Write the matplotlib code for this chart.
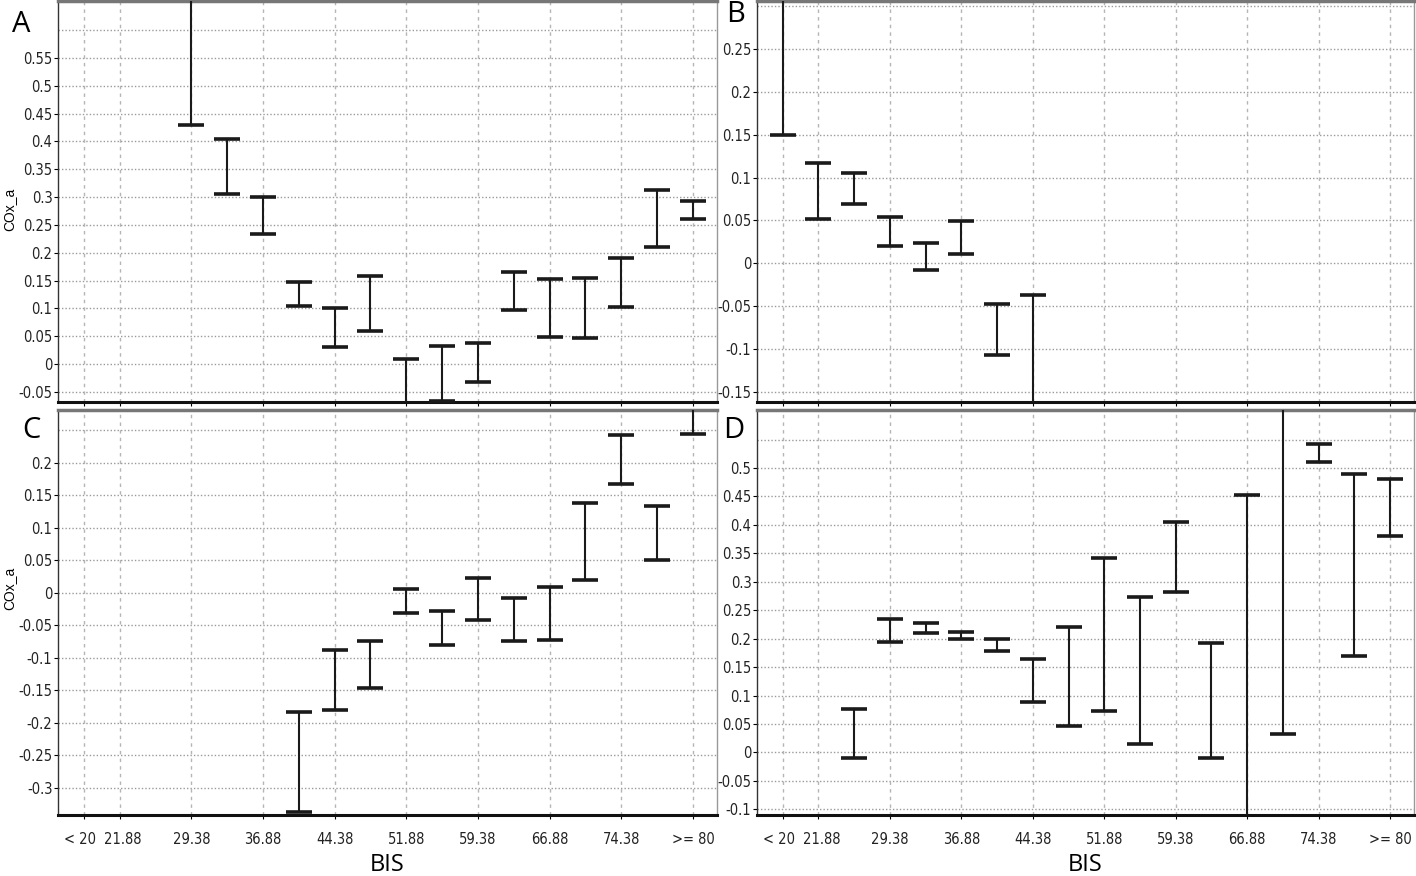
import matplotlib
matplotlib.use("Agg")
import matplotlib.pyplot as plt
from matplotlib import font_manager as fm
from matplotlib import transforms as mtrans
import numpy as np

# ---------------- data ----------------
categories = ["< 20", "21.88", "25.63", "29.38", "33.13", "36.88", "40.63", "44.38", "48.13",
              "51.88", "55.63", "59.38", "63.13", "66.88", "70.63", "74.38", "78.13", ">= 80"]
shown_ticks = [0, 1, 3, 5, 7, 9, 11, 13, 15, 17]

# Panel A (bin index, lower, upper)
a_idx = [3, 4, 5, 6, 7, 8, 9, 10, 11, 12, 13, 14, 15, 16, 17]
a_low = [0.43, 0.305, 0.233, 0.105, 0.030, 0.060, -0.09, -0.066, -0.032, 0.097, 0.048, 0.047, 0.102, 0.210, 0.260]
a_up = [0.70, 0.405, 0.300, 0.148, 0.100, 0.158, 0.010, 0.033, 0.038, 0.166, 0.152, 0.154, 0.190, 0.313, 0.293]

# Panel B
b_idx = [0, 1, 2, 3, 4, 5, 6, 7]
b_low = [0.150, 0.052, 0.069, 0.020, -0.008, 0.011, -0.107, -0.20]
b_up = [0.35, 0.117, 0.105, 0.054, 0.023, 0.049, -0.048, -0.037]

# Panel C
c_idx = [6, 7, 8, 9, 10, 11, 12, 13, 14, 15, 16, 17]
c_low = [-0.338, -0.180, -0.147, -0.031, -0.081, -0.042, -0.074, -0.072, 0.020, 0.168, 0.051, 0.245]
c_up = [-0.183, -0.088, -0.074, 0.006, -0.028, 0.023, -0.008, 0.009, 0.138, 0.243, 0.133, 0.32]

# Panel D
d_idx = [2, 3, 4, 5, 6, 7, 8, 9, 10, 11, 12, 13, 14, 15, 16, 17]
d_low = [-0.010, 0.195, 0.210, 0.200, 0.178, 0.088, 0.046, 0.073, 0.015, 0.282, -0.010, -0.15, 0.033, 0.510, 0.170, 0.380]
d_up = [0.077, 0.235, 0.228, 0.211, 0.200, 0.164, 0.220, 0.342, 0.273, 0.405, 0.193, 0.452, 0.65, 0.543, 0.490, 0.480]

a_yticks = [-0.05, 0, 0.05, 0.1, 0.15, 0.2, 0.25, 0.3, 0.35, 0.4, 0.45, 0.5, 0.55]
b_yticks = [-0.15, -0.1, -0.05, 0, 0.05, 0.1, 0.15, 0.2, 0.25]
c_yticks = [-0.3, -0.25, -0.2, -0.15, -0.1, -0.05, 0, 0.05, 0.1, 0.15, 0.2]
d_yticks = [-0.1, -0.05, 0, 0.05, 0.1, 0.15, 0.2, 0.25, 0.3, 0.35, 0.4, 0.45, 0.5]
a_extra_grid = [0.6]
b_extra_grid = [0.3]
c_extra_grid = [0.25]
d_extra_grid = [0.55]

# ---------------- fonts ----------------
cond = [f for f in fm.fontManager.ttflist
        if ('Narrow' in f.name or 'Condensed' in f.name or str(f.stretch) in ('condensed', 'semi-condensed', '75', '87'))
        and f.style == 'normal' and f.weight in (400, 'normal')]
if cond:
    tick_fp = fm.FontProperties(fname=sorted(cond, key=lambda f: ('Liberation' not in f.name, 'DejaVu' not in f.fname))[0].fname)
else:
    tick_fp = fm.FontProperties(family=['Liberation Sans', 'DejaVu Sans'])

fig = plt.figure(figsize=(14.16, 8.76), dpi=100)
W, H = 1416, 876


def px_axes(l, t, r, b):
    return fig.add_axes([l / W, 1 - b / H, (r - l) / W, (b - t) / H])


def fmt(v):
    return "%g" % v


def draw(ax, idx, low, up, ylim, yticks, extra, show_x):
    ax.set_xlim(-0.72, 17.67)
    ax.set_ylim(*ylim)
    for t in list(yticks) + list(extra):
        ax.axhline(t, color='#9a9a9a', lw=1.0, ls=(0, (1, 1.5)), zorder=0)
    for t in shown_ticks:
        ax.axvline(t, color='#b5b5b5', lw=1.0, ls=(0, (2.5, 3)), zorder=0)
    low = np.array(low)
    up = np.array(up)
    x = np.array(idx)
    mid = (low + up) / 2
    ax.errorbar(x, mid, yerr=[mid - low, up - mid], fmt='none', ecolor='#1a1a1a',
                elinewidth=1.5, capsize=9.5, capthick=2.6, zorder=3)
    ax.set_yticks(yticks)
    ax.set_yticklabels([fmt(v) for v in yticks])
    ax.set_xticks(shown_ticks)
    if show_x:
        ax.set_xticklabels([categories[i] for i in shown_ticks])
    else:
        ax.set_xticklabels([])
    for lab in ax.get_yticklabels() + ax.get_xticklabels():
        lab.set_fontproperties(tick_fp)
        lab.set_fontsize(10.5)
        lab.set_color('#222222')
    ax.tick_params(axis='y', length=3, width=0.8, pad=1)
    ax.tick_params(axis='x', length=3, width=0.8, pad=9, direction='out')
    if show_x:
        labs = ax.get_xticklabels()
        shifts = {0: -4, 1: 3}
        for i, dx in shifts.items():
            labs[i].set_transform(labs[i].get_transform() +
                                  mtrans.ScaledTranslation(dx / 100, 0, fig.dpi_scale_trans))
    ax.spines['top'].set_color('#777777')
    ax.spines['top'].set_linewidth(2.5)
    ax.spines['bottom'].set_color('#111111')
    ax.spines['bottom'].set_linewidth(2.2)
    ax.spines['left'].set_color('#333333')
    ax.spines['left'].set_linewidth(1.0)
    ax.spines['right'].set_color('#999999')
    ax.spines['right'].set_linewidth(1.0)


axA = px_axes(58, 1, 717, 402)
axB = px_axes(757, 1, 1414, 402)
axC = px_axes(58, 410, 717, 815)
axD = px_axes(757, 410, 1414, 815)

draw(axA, a_idx, a_low, a_up, (-0.068, 0.652), a_yticks, a_extra_grid, False)
draw(axB, b_idx, b_low, b_up, (-0.162, 0.306), b_yticks, b_extra_grid, False)
draw(axC, c_idx, c_low, c_up, (-0.342, 0.2815), c_yticks, c_extra_grid, True)
draw(axD, d_idx, d_low, d_up, (-0.11, 0.602), d_yticks, d_extra_grid, True)

for ax in (axA, axC):
    ax.set_ylabel("COx_a", fontsize=10, family=['Liberation Sans', 'DejaVu Sans'])
axA.yaxis.set_label_coords(-0.064, 0.48)
axC.yaxis.set_label_coords(-0.064, 0.56)

for ax in (axC, axD):
    ax.set_xlabel("BIS", fontsize=17, family=['Open Sans', 'DejaVu Sans'])
    ax.xaxis.set_label_coords(0.5, -0.095)

lbl_font = ['Open Sans', 'DejaVu Sans']
fig.text(12 / W, 1 - 24 / H, "A", fontsize=21, family=lbl_font, va='center', ha='left')
fig.text(726 / W, 1 - 15 / H, "B", fontsize=21, family=lbl_font, va='center', ha='left')
fig.text(22 / W, 1 - 430 / H, "C", fontsize=21, family=lbl_font, va='center', ha='left')
fig.text(723 / W, 1 - 430 / H, "D", fontsize=21, family=lbl_font, va='center', ha='left')

fig.savefig("out.png", dpi=100)
